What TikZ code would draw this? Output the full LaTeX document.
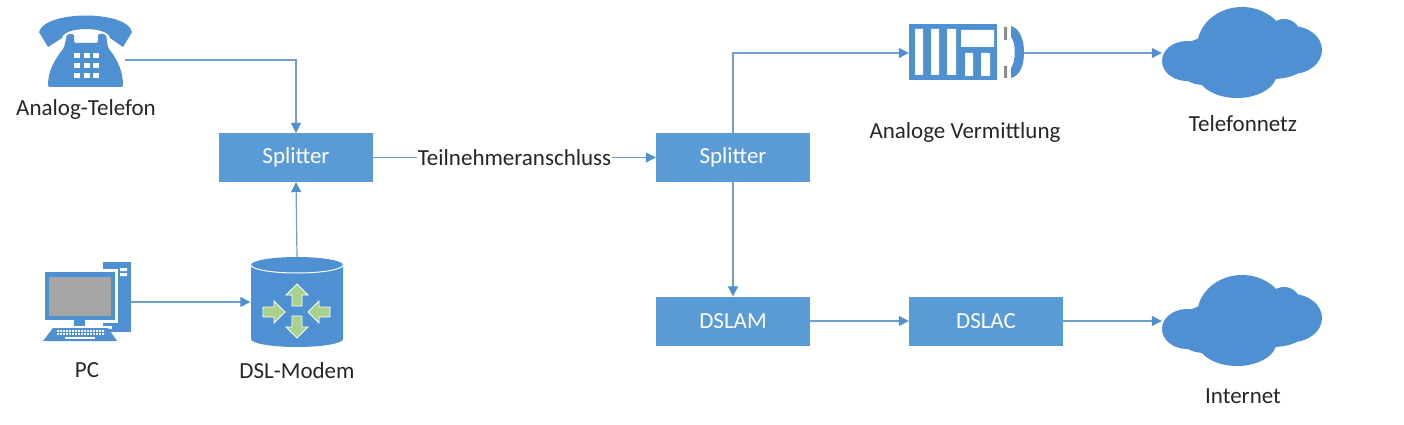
\documentclass[tikz,border=0pt]{standalone}
\usepackage{fontspec}
\setmainfont{Carlito}
\usetikzlibrary{arrows.meta}

\definecolor{boxblue}{HTML}{5B9BD5}
\definecolor{iconblue}{HTML}{4F90D2}
\definecolor{linkblue}{HTML}{6F9FCB}
\definecolor{arrowgreen}{HTML}{A9D18E}

\tikzset{
    link/.style={draw=linkblue, line width=1.2pt, -{Triangle[length=10pt,width=10pt,color=iconblue]}},
    bluebox/.style={fill=boxblue, text=white, minimum width=154, minimum height=49, inner sep=0pt, font=\fontsize{23}{26}\selectfont},
    iconbox/.style={inner sep=0pt},
    caption/.style={inner sep=0pt, text=black!85, font=\fontsize{23}{26}\selectfont},
    cloudicon/.pic={
        \fill[iconblue] (-55,8) ellipse [x radius=25, y radius=20]
            (-37,19) ellipse [x radius=24, y radius=13]
            (0,-6) ellipse [x radius=45, y radius=40]
            (-5,20) ellipse [x radius=40, y radius=25]
            (42,-19) ellipse [x radius=16, y radius=15]
            (50,-3) ellipse [x radius=30, y radius=24]
            (30,10) ellipse [x radius=34, y radius=16];
        \fill[iconblue] (-60,-8) -- (-30,-20) -- (45,-20) -- (70,0) -- (40,25) -- (-60,20) -- cycle;
    },
    routearrow/.pic={
        \draw[white, line width=.8pt, fill=arrowgreen] (0,-5) -- (11,-5) -- (11,-11) -- (22,0) -- (11,11) -- (11,5) -- (0,5) -- cycle;
    }
}

\begin{document}
\begin{tikzpicture}[x=1pt, y=-1pt]
    \useasboundingbox (0,0) rectangle (1404,425);

    \node[bluebox] (splitterA) at (296,157.5) {Splitter};
    \node[bluebox] (splitterB) at (733,157.5) {Splitter};
    \node[bluebox] (dslam) at (733,321) {DSLAM};
    \node[bluebox] (dslac) at (986,321) {DSLAC};

    \node[iconbox, minimum width=78, minimum height=54] (phone) at (86,60) {};
    \node[iconbox, minimum width=86, minimum height=60] (pc) at (88,302) {};
    \node[iconbox, minimum width=93, minimum height=89] (modem) at (297,302) {};
    \node[iconbox, minimum width=115, minimum height=56] (switch) at (966.5,53) {};
    \node[iconbox, minimum width=160, minimum height=90] (telnet) at (1242,53) {};
    \node[iconbox, minimum width=160, minimum height=90] (inet) at (1242,321) {};

    % telephone
    \fill[iconblue] (39,32) .. controls (45,10) and (127,10) .. (132,32)
        -- (123,47) -- (110,38) .. controls (108,26) and (64,26) .. (62,38) -- (48,47) -- cycle;
    \fill[iconblue, rounded corners=2pt] (48,87) .. controls (48,72) and (54,60) .. (64,48) -- (67,34) -- (74,34) -- (74,43)
        -- (98,43) -- (98,34) -- (106,34) -- (108,48) .. controls (118,60) and (123,72) .. (123,87) -- cycle;
    \foreach \kx in {74,83.5,93}
        \foreach \ky in {53,63,73}
            \fill[white] (\kx,\ky) rectangle ++(6,5.5);

    % computer
    \fill[iconblue] (103,262) rectangle (131,332);
    \fill[white] (120,268) rectangle (127,271) (120,273) rectangle (127,276);
    \fill[white] (42,269) rectangle (118,323);
    \fill[iconblue] (45,272) rectangle (115,320);
    \fill[black!35] (49,277) rectangle (111,316);
    \fill[iconblue] (74,320) rectangle (85,328);
    \fill[white] (50,326) rectangle (112,329);
    \fill[iconblue] (53,328) -- (108,328) -- (117,341) -- (43,341) -- cycle;
    \foreach \ky in {331,334}
        \draw[white, line width=1.2pt, dash pattern=on 2pt off 1pt] (57,\ky) -- (105,\ky);
    \draw[white, line width=1.4pt] (65,338) -- (95,338);

    % modem
    \fill[iconblue] (251,265) -- (251,339) arc [start angle=180, end angle=0, x radius=46, y radius=8]
        -- (343,265) -- cycle;
    \fill[iconblue] (297,265) ellipse [x radius=46, y radius=8];
    \draw[white, line width=1pt] (251,265) arc [start angle=180, end angle=0, x radius=46, y radius=8];
    \pic[rotate=90] at (297,306) {routearrow};
    \pic[rotate=-90] at (297,316) {routearrow};
    \pic at (263,312) {routearrow};
    \pic[rotate=180] at (330,312) {routearrow};

    % analog switch
    \fill[iconblue] (909,24) rectangle (997,80);
    \fill[white] (915,29) rectangle (923,75) (931,29) rectangle (939,75) (947,29) rectangle (956,75)
        (961,30) rectangle (994,47) (965,53) rectangle (973,76) (981,53) rectangle (990,76);
    \fill[black!45] (1004,27) rectangle (1007,40) (1004,66) rectangle (1007,78);
    \fill[iconblue] (1011,26) .. controls (1021,29) and (1024,42) .. (1024,52)
        .. controls (1024,64) and (1021,75) .. (1011,78) -- (1011,68)
        .. controls (1016,62) and (1016,42) .. (1011,37) -- cycle;

    \pic at (telnet) {cloudicon};
    \pic at (inet) {cloudicon};

    \node[caption] (phonelabel) at (86,109) {Analog-Telefon};
    \node[caption] (pclabel) at (87,370) {PC};
    \node[caption] (modemlabel) at (297,371) {DSL-Modem};
    \node[caption] (switchlabel) at (965,132) {Analoge Vermittlung};
    \node[caption] (telnetlabel) at (1243,124) {Telefonnetz};
    \node[caption] (inetlabel) at (1243,396) {Internet};

    \draw[link] (phone.east) -| (splitterA.north);
    \draw[link] (pc.east) -- (modem.west);
    \draw[link] (modem.north) -- (splitterA.south);
    \draw[link] (splitterA.east) -- (splitterB.west) node[midway, fill=white, inner sep=1pt, text=black!85, font=\fontsize{23}{26}\selectfont]{Teilnehmeranschluss};
    \draw[link] (splitterB.north) |- (switch.west);
    \draw[link] (switch.east) -- (telnet.west);
    \draw[link] (splitterB.south) -- (dslam.north);
    \draw[link] (dslam.east) -- (dslac.west);
    \draw[link] (dslac.east) -- (inet.west);
\end{tikzpicture}
\end{document}
